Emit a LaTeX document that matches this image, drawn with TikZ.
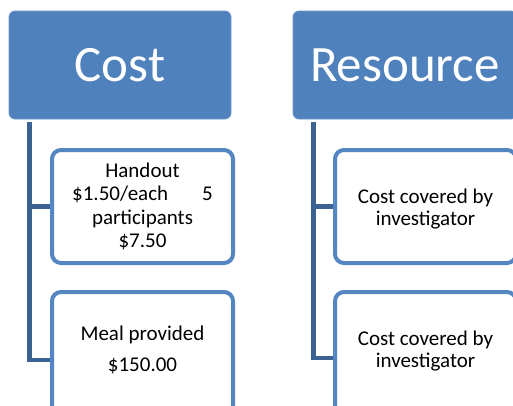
\documentclass[tikz,border=0pt]{standalone}
\usepackage{fontspec}
\setmainfont{Carlito}
\definecolor{hdrfill}{RGB}{79,129,189}
\definecolor{hdredge}{RGB}{108,151,204}
\definecolor{connc}{RGB}{58,98,147}
\definecolor{kidedge}{RGB}{84,134,194}
\begin{document}
\begin{tikzpicture}[x=1pt,y=-1pt,
  header/.style={draw=hdredge,line width=0.8pt,fill=hdrfill,rounded corners=6pt,
    text=white,font=\fontsize{51}{56}\selectfont,inner sep=0pt},
  kid/.style={draw=kidedge,line width=4pt,fill=white,rounded corners=9pt,
    align=center,font=\fontsize{21}{23.5}\selectfont,inner sep=0pt},
  kidtext/.style={font=\fontsize{21}{22.5}\selectfont,align=center},
  conn/.style={draw=connc,line width=4.5pt}]
\useasboundingbox (0,0) rectangle (513,405);
\clip (0,0) rectangle (513,405);
\node[header,minimum width=222pt,minimum height=108pt] (cost) at (120,65) {Cost};
\node[header,minimum width=224pt,minimum height=108pt] (res) at (405,65) {Resource};
\node[kid,minimum width=181pt,minimum height=113pt] (c1) at (142.5,206.5)
  {Handout\\\$1.50/each\hspace{34pt}5\\participants\\\$7.50};
\node[kid,minimum width=181pt,minimum height=124pt] (c2) at (142.5,354) {};
\node[kidtext] (c2t) at (142.5,350) {Meal provided\\[9pt]\$150.00};
\node[kid,minimum width=181pt,minimum height=113pt] (r1) at (425.5,206.5) {};
\node[kidtext] (r1t) at (425.5,209) {Cost covered by\\investigator};
\node[kid,minimum width=181pt,minimum height=124pt] (r2) at (425.5,354) {};
\node[kidtext] (r2t) at (425.5,351) {Cost covered by\\investigator};
\draw[conn] ([xshift=21pt,yshift=-3pt]cost.south west) |- (c1.west);
\draw[conn] ([xshift=21pt,yshift=-3pt]cost.south west) |- ([yshift=-6pt]c2.west);
\draw[conn] ([xshift=21pt,yshift=-3pt]res.south west) |- (r1.west);
\draw[conn] ([xshift=21pt,yshift=-3pt]res.south west) |- ([yshift=-4pt]r2.west);
\end{tikzpicture}
\end{document}
